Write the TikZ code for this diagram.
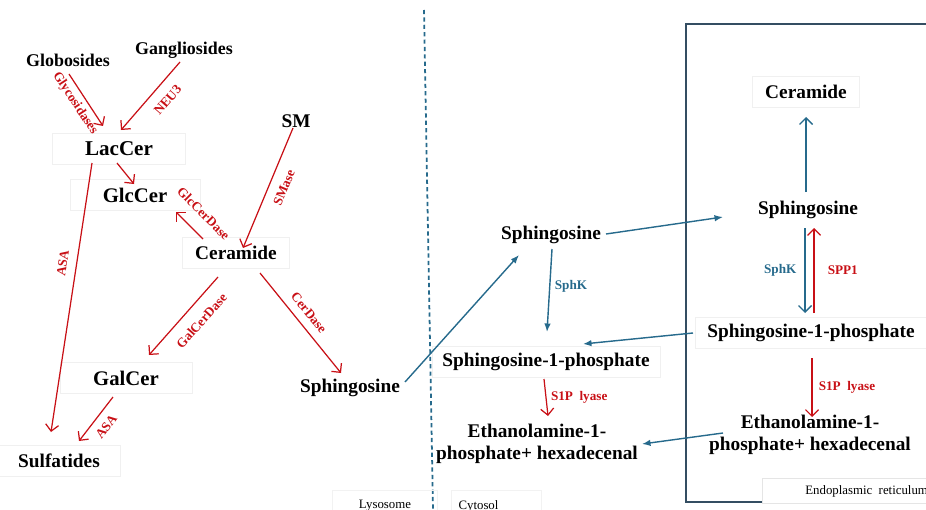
\documentclass[tikz,border=0pt]{standalone}
\usepackage{fontspec}
\setmainfont{Liberation Serif}
\usepackage{tikz}
\usetikzlibrary{arrows.meta,calc}

\definecolor{enzred}{RGB}{200,16,22}
\definecolor{flowblue}{RGB}{38,106,140}
\definecolor{erframe}{RGB}{52,78,98}

\begin{document}
\begin{tikzpicture}[x=0.02cm, y=-0.02cm,
        met/.style={font=\fontsize{11}{12.5}\selectfont\bfseries, inner sep=1pt, align=center},
        metbox/.style={met, draw=black!6, minimum height=0.62cm},
        enz/.style={font=\fontsize{7.5}{8}\selectfont\bfseries, text=enzred, inner sep=2.5pt},
        enzb/.style={enz, text=flowblue},
        compart/.style={font=\fontsize{7.3}{8}\selectfont, draw=black!5, minimum height=0.62cm},
        redflow/.style={-{Straight Barb[length=1.3mm,width=2.6mm]}, line width=0.7pt, enzred},
        blueflow/.style={-{Latex[length=1.7mm,width=1.3mm]}, line width=0.8pt, flowblue},
        bluev/.style={-{Straight Barb[length=1.3mm,width=2.6mm]}, line width=0.8pt, flowblue}
    ]
        \useasboundingbox (0,0) rectangle (926,510);

        % compartments
        \draw[flowblue, line width=1pt, dash pattern=on 2.4pt off 1.8pt] (424,10) -- (433,510);
        \draw[erframe, line width=1pt] (686,24) rectangle (960,502);
        \node[compart, minimum width=2.1cm] (lyso) at (385,506) {Lysosome};
        \node[compart, minimum width=1.8cm] (cyto) at (496,506) {\hspace*{-0.7cm}Cytosol};
        \node[compart, fill=white, draw=black!10, anchor=west, inner xsep=0.86cm, minimum height=0.5cm] (erlabel) at (762,491) {Endoplasmic~~reticulum};

        % lysosome
        \node[met, font=\fontsize{10.2}{12}\selectfont\bfseries] (globo) at (68,60) {Globosides};
        \node[met, font=\fontsize{10.2}{12}\selectfont\bfseries] (gang) at (184,50) {Gangliosides};
        \node[met] (sm) at (296,121) {SM};
        \node[metbox, minimum width=2.66cm, font=\fontsize{12}{13}\selectfont\bfseries] (lac) at (119,149) {LacCer};
        \node[metbox, minimum width=2.6cm, font=\fontsize{11.8}{13}\selectfont\bfseries] (glc) at (135,195) {GlcCer};
        \node[metbox, minimum width=2.14cm] (cer) at (236,253) {Ceramide};
        \node[metbox, minimum width=2.64cm, font=\fontsize{11.8}{13}\selectfont\bfseries] (gal) at (126,378) {GalCer};
        \node[metbox, minimum width=2.46cm] (sulf) at (59,461) {Sulfatides};
        \node[met] (sphlys) at (350,388) {Sphingosine};

        % cytosol
        \node[met] (sphcyt) at (551,235) {Sphingosine};
        \node[metbox, minimum width=4.56cm] (s1pcyt) at (546,362) {Sphingosine-1-phosphate};
        \node[met] (ethcyt) at (537,444) {Ethanolamine-1-\\phosphate+ hexadecenal};

        % ER
        \node[metbox, minimum width=2.14cm] (cerer) at (806,92) {Ceramide};
        \node[met] (spher) at (808,210) {Sphingosine};
        \node[metbox, minimum width=4.64cm] (s1per) at (811,333) {Sphingosine-1-phosphate};
        \node[met] (ether) at (810,435) {Ethanolamine-1-\\phosphate+ hexadecenal};

        \draw[redflow] ($(globo)+(1,14)$) -- node[enz, sloped, below, pos=.45] {Glycosidases} ($(lac)+(-16,-23)$);
        \draw[redflow] ($(gang)+(-4,12)$) -- node[enz, sloped, below=3.5pt, pos=.41] {NEU3} ($(lac)+(2,-19)$);
        \draw[redflow] ($(lac)+(-2,14)$) -- ($(glc)+(-1,-11)$);
        \draw[redflow] ($(cer)+(-33,-14)$) -- node[enz, sloped, above=5pt, pos=.46] {GlcCerDase} ($(glc)+(41,17)$);
        \draw[redflow] ($(sm)+(-3,7)$) -- node[enz, sloped, below=3pt, pos=.45] {SMase} ($(cer)+(7,-5)$);
        \draw[redflow] ($(lac)+(-27,14)$) -- node[enz, sloped, above=2.5pt, pos=.38] {ASA} ($(sulf)+(-8,-29)$);
        \draw[redflow] ($(cer)+(-18,24)$) -- node[enz, sloped, below=4pt, pos=.42] {GalCerDase} ($(gal)+(23,-23)$);
        \draw[redflow] ($(gal)+(-13,19)$) -- node[enz, sloped, below=2pt, pos=.5] {ASA} ($(sulf)+(20,-20)$);
        \draw[redflow] ($(cer)+(24,20)$) -- node[enz, sloped, above=2pt, pos=.48] {CerDase} ($(sphlys)+(-9,-15)$);

        \draw[blueflow] ($(sphlys)+(55,-6)$) -- ($(sphcyt)+(-32,20)$);
        \draw[blueflow] ($(sphcyt)+(55,-1)$) -- ($(spher)+(-85,7)$);
        \draw[blueflow] ($(sphcyt)+(1,14)$) -- node[enzb, right, pos=.45] {SphK} ($(s1pcyt)+(1,-30)$);
        \draw[redflow] ($(s1pcyt)+(-2,17)$) -- node[enz, right] {S1P~~lyase} ($(ethcyt)+(11,-28)$);

        \draw[bluev] ($(spher)+(-2,-18)$) -- ($(cerer)+(0,25)$);
        \draw[bluev] ($(spher)+(-3,18)$) -- node[enzb, left, xshift=-2pt] {SphK} ($(s1per)+(-6,-20)$);
        \draw[redflow] ($(s1per)+(3,-20)$) -- node[enz, right, xshift=5pt] {SPP1} ($(spher)+(6,18)$);
        \draw[redflow] ($(s1per)+(1,25)$) -- node[enz, right, xshift=1pt] {S1P~~lyase} ($(ether)+(2,-18)$);
        \draw[blueflow] ($(s1per)+(-118,0)$) -- ($(s1pcyt)+(37,-18)$);
        \draw[blueflow] ($(ether)+(-87,-2)$) -- ($(ethcyt)+(105,0)$);
    \end{tikzpicture}
\end{document}
